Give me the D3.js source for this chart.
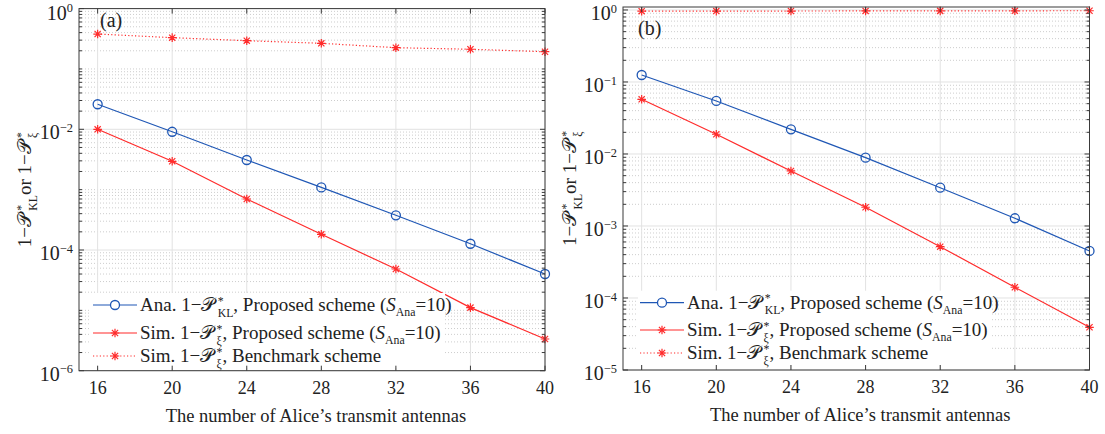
<!DOCTYPE html>
<html>
<head>
<meta charset="utf-8">
<script src="https://cdn.jsdelivr.net/npm/d3@7"></script>
<style>
body { margin: 0; background: #fff; }
svg { display: block; }
text { font-family: "Liberation Serif", "Times New Roman", serif; fill: #222; }
</style>
</head>
<body>
<div id="chart"></div>
<script>
// data
const antennas = [16, 20, 24, 28, 32, 36, 40];
const anaA   = [0.026, 9.1e-3, 3.1e-3, 1.09e-3, 3.76e-4, 1.27e-4, 4.0e-5];
const simA   = [0.010, 2.95e-3, 7.0e-4, 1.82e-4, 4.84e-5, 1.11e-5, 3.35e-6];
const benchA = [0.379, 0.33, 0.294, 0.266, 0.225, 0.212, 0.193];
const anaB   = [0.125, 0.0545, 0.0220, 8.89e-3, 3.40e-3, 1.28e-3, 4.50e-4];
const simB   = [0.0575, 0.0188, 5.81e-3, 1.82e-3, 5.16e-4, 1.41e-4, 3.92e-5];
const benchB = [0.962, 0.965, 0.967, 0.970, 0.972, 0.974, 0.976];

const xTicks = [16, 20, 24, 28, 32, 36, 40];
const yTicksA = [1, 1e-2, 1e-4, 1e-6];
const yExpA = ["0", "\u22122", "\u22124", "\u22126"];
const yTicksB = [1, 1e-1, 1e-2, 1e-3, 1e-4, 1e-5];
const yExpB = ["0", "\u22121", "\u22122", "\u22123", "\u22124", "\u22125"];
const panelTags = ["(a)", "(b)"];
const xTitle = "The number of Alice\u2019s transmit antennas";
const calP = "\uD835\uDCAB";
const legendLabels = [
  [["Ana. 1\u2212", "n"], [calP, "n"], [["*", "KL"], "stack"], [", Proposed scheme (", "n"], ["S", "i"], ["Ana", "sub"], ["=10)", "n"]],
  [["Sim. 1\u2212", "n"], [calP, "n"], [["*", "\u03BE"], "stack"], [", Proposed scheme (", "n"], ["S", "i"], ["Ana", "sub"], ["=10)", "n"]],
  [["Sim. 1\u2212", "n"], [calP, "n"], [["*", "\u03BE"], "stack"], [", Benchmark scheme", "n"]]
];
const yTitle = [["1\u2212", "n"], [calP, "n"], [["*", "KL"], "stack"], [" or 1\u2212", "n"], [calP, "n"], [["*", "\u03BE"], "stack"]];

const W = 1105, H = 434;
const blue = "#1f57b5", red = "#ff2b2b";

const svg = d3.select("#chart").append("svg").attr("width", W).attr("height", H);

// lays out text with sub/superscripts, returns total width
function rich(g, parts, size) {
  let cx = 0;
  const small = size * 0.62;
  const put = (s, x, y, fs, it) => {
    const t = g.append("text").attr("x", x).attr("y", y).attr("font-size", fs).text(s);
    if (it) t.attr("font-style", "italic");
    return t.node().getComputedTextLength();
  };
  parts.forEach(([s, k]) => {
    if (k === "n" || k === "i") cx += put(s, cx, 0, size, k === "i");
    else if (k === "sup") cx += put(s, cx, -size * 0.37, small);
    else if (k === "sub") cx += put(s, cx, size * 0.28, small);
    else if (k === "stack") {
      cx += size * 0.12;
      const a = put(s[0], cx, -size * 0.34, small);
      const b = put(s[1], cx, size * 0.3, small);
      cx += Math.max(a, b);
    }
  });
  return cx;
}

function star(s) {
  const d = s * 0.72;
  return `M${-s},0L${s},0M0,${-s}L0,${s}M${-d},${-d}L${d},${d}M${-d},${d}L${d},${-d}`;
}

function drawPanel(cfg) {
  const x = d3.scaleLinear().domain([15, 40]).range([cfg.left, cfg.right]);
  const y = d3.scaleLog().domain(cfg.yDomain).range([cfg.bottom, cfg.top]);
  const g = svg.append("g");

  // minor grid (dotted) for the log axis
  const lo = Math.floor(Math.log10(cfg.yDomain[0])), hi = Math.ceil(Math.log10(cfg.yDomain[1]));
  const minors = [];
  for (let k = lo; k < hi; k++) {
    for (let m = 1; m <= 9; m++) {
      const v = m * Math.pow(10, k);
      if (v < cfg.yDomain[0] * 0.999 || v > cfg.yDomain[1]) continue;
      if (cfg.yTicks.some(t => Math.abs(t - v) / v < 1e-6)) continue;
      minors.push(v);
    }
  }
  g.selectAll(".ymin").data(minors).enter().append("line")
    .attr("x1", cfg.left).attr("x2", cfg.right)
    .attr("y1", d => y(d)).attr("y2", d => y(d))
    .attr("stroke", "#c0c0c0").attr("stroke-width", 0.8).attr("stroke-dasharray", "1,2");
  g.selectAll(".ymaj").data(cfg.yTicks).enter().append("line")
    .attr("x1", cfg.left).attr("x2", cfg.right)
    .attr("y1", d => y(d)).attr("y2", d => y(d))
    .attr("stroke", "#e2e2e2").attr("stroke-width", 1);
  g.selectAll(".xmaj").data(xTicks).enter().append("line")
    .attr("x1", d => x(d)).attr("x2", d => x(d))
    .attr("y1", cfg.top).attr("y2", cfg.bottom)
    .attr("stroke", "#e2e2e2").attr("stroke-width", 1);

  // series
  const series = [
    { vals: cfg.ana, color: blue, dash: null, mark: "o" },
    { vals: cfg.sim, color: red, dash: null, mark: "*" },
    { vals: cfg.bench, color: red, dash: "1.2,2.2", mark: "*" }
  ];
  const line = d3.line().x(d => x(d[0])).y(d => y(d[1]));
  series.forEach(s => {
    const pts = antennas.map((a, i) => [a, s.vals[i]]);
    g.append("path").attr("d", line(pts)).attr("fill", "none")
      .attr("stroke", s.color).attr("stroke-width", 1.2)
      .attr("stroke-dasharray", s.dash);
    pts.forEach(p => {
      if (s.mark === "o") {
        g.append("circle").attr("cx", x(p[0])).attr("cy", y(p[1])).attr("r", 4.5)
          .attr("fill", "none").attr("stroke", s.color).attr("stroke-width", 1.3);
      } else {
        g.append("path").attr("d", star(4.3))
          .attr("transform", `translate(${x(p[0])},${y(p[1])})`)
          .attr("stroke", s.color).attr("stroke-width", 1.2).attr("fill", "none");
      }
    });
  });

  // legend
  const lg = g.append("g");
  lg.append("rect").attr("x", cfg.legX - 2).attr("y", cfg.legRows[0] - 12)
    .attr("width", cfg.legW).attr("height", cfg.legRows[2] - cfg.legRows[0] + 24)
    .attr("fill", "#fff");
  series.forEach((s, i) => {
    const ry = cfg.legRows[i];
    lg.append("line").attr("x1", cfg.legX).attr("x2", cfg.legX + 44)
      .attr("y1", ry).attr("y2", ry)
      .attr("stroke", s.color).attr("stroke-width", 1.2).attr("stroke-dasharray", s.dash);
    if (s.mark === "o") {
      lg.append("circle").attr("cx", cfg.legX + 22).attr("cy", ry).attr("r", 4.5)
        .attr("fill", "#fff").attr("stroke", s.color).attr("stroke-width", 1.3);
    } else {
      lg.append("path").attr("d", star(4.3)).attr("transform", `translate(${cfg.legX + 22},${ry})`)
        .attr("stroke", s.color).attr("stroke-width", 1.2);
    }
    const tg = lg.append("g").attr("transform", `translate(${cfg.legX + 47},${ry + 6})`);
    rich(tg, legendLabels[i], 19);
  });

  // axes box
  const ax = g.append("g").attr("stroke", "#3a3a3a").attr("stroke-width", 1);
  ax.append("rect").attr("x", cfg.left).attr("y", cfg.top)
    .attr("width", cfg.right - cfg.left).attr("height", cfg.bottom - cfg.top).attr("fill", "none");
  xTicks.forEach(t => {
    ax.append("line").attr("x1", x(t)).attr("x2", x(t)).attr("y1", cfg.bottom).attr("y2", cfg.bottom - 5);
    ax.append("line").attr("x1", x(t)).attr("x2", x(t)).attr("y1", cfg.top).attr("y2", cfg.top + 5);
  });
  cfg.yTicks.forEach(t => {
    ax.append("line").attr("x1", cfg.left).attr("x2", cfg.left + 5).attr("y1", y(t)).attr("y2", y(t));
    ax.append("line").attr("x1", cfg.right).attr("x2", cfg.right - 5).attr("y1", y(t)).attr("y2", y(t));
  });
  minors.forEach(t => {
    ax.append("line").attr("x1", cfg.left).attr("x2", cfg.left + 3).attr("y1", y(t)).attr("y2", y(t));
    ax.append("line").attr("x1", cfg.right).attr("x2", cfg.right - 3).attr("y1", y(t)).attr("y2", y(t));
  });

  // tick labels
  xTicks.forEach(t => {
    g.append("text").attr("x", x(t)).attr("y", cfg.bottom + 23).attr("text-anchor", "middle")
      .attr("font-size", 18).text(t);
  });
  cfg.yTicks.forEach((t, i) => {
    const tg = g.append("g");
    const w = rich(tg, [["10", "n"], [cfg.yExp[i], "sup"]], 20);
    tg.attr("transform", `translate(${cfg.left - 6 - w},${Math.max(y(t) + 10, 19.5)})`);
  });

  // titles
  g.append("text").attr("x", (cfg.left + cfg.right) / 2 + 4).attr("y", cfg.bottom + 51)
    .attr("text-anchor", "middle").attr("font-size", 18.5).text(xTitle);
  const yt = g.append("g");
  const yw = rich(yt, yTitle, 19);
  yt.attr("transform", `translate(${cfg.yTitleX},${(cfg.top + cfg.bottom) / 2}) rotate(-90) translate(${-yw / 2},0)`);
  g.append("text").attr("x", cfg.tagX).attr("y", cfg.tagY).attr("font-size", 20).text(cfg.tag);
}

drawPanel({
  left: 79, right: 545, top: 8.6, bottom: 370.7, yDomain: [1e-6, 1],
  yTicks: yTicksA, yExp: yExpA, ana: anaA, sim: simA, bench: benchA,
  legX: 93, legW: 354, legRows: [305, 333, 356],
  yTitleX: 31, tag: panelTags[0], tagX: 100, tagY: 27
});
drawPanel({
  left: 623, right: 1089.5, top: 7, bottom: 370, yDomain: [1e-5, 1.1],
  yTicks: yTicksB, yExp: yExpB, ana: anaB, sim: simB, bench: benchB,
  legX: 640, legW: 352, legRows: [302.7, 330, 353],
  yTitleX: 576, tag: panelTags[1], tagX: 638, tagY: 35
});
</script>
</body>
</html>
